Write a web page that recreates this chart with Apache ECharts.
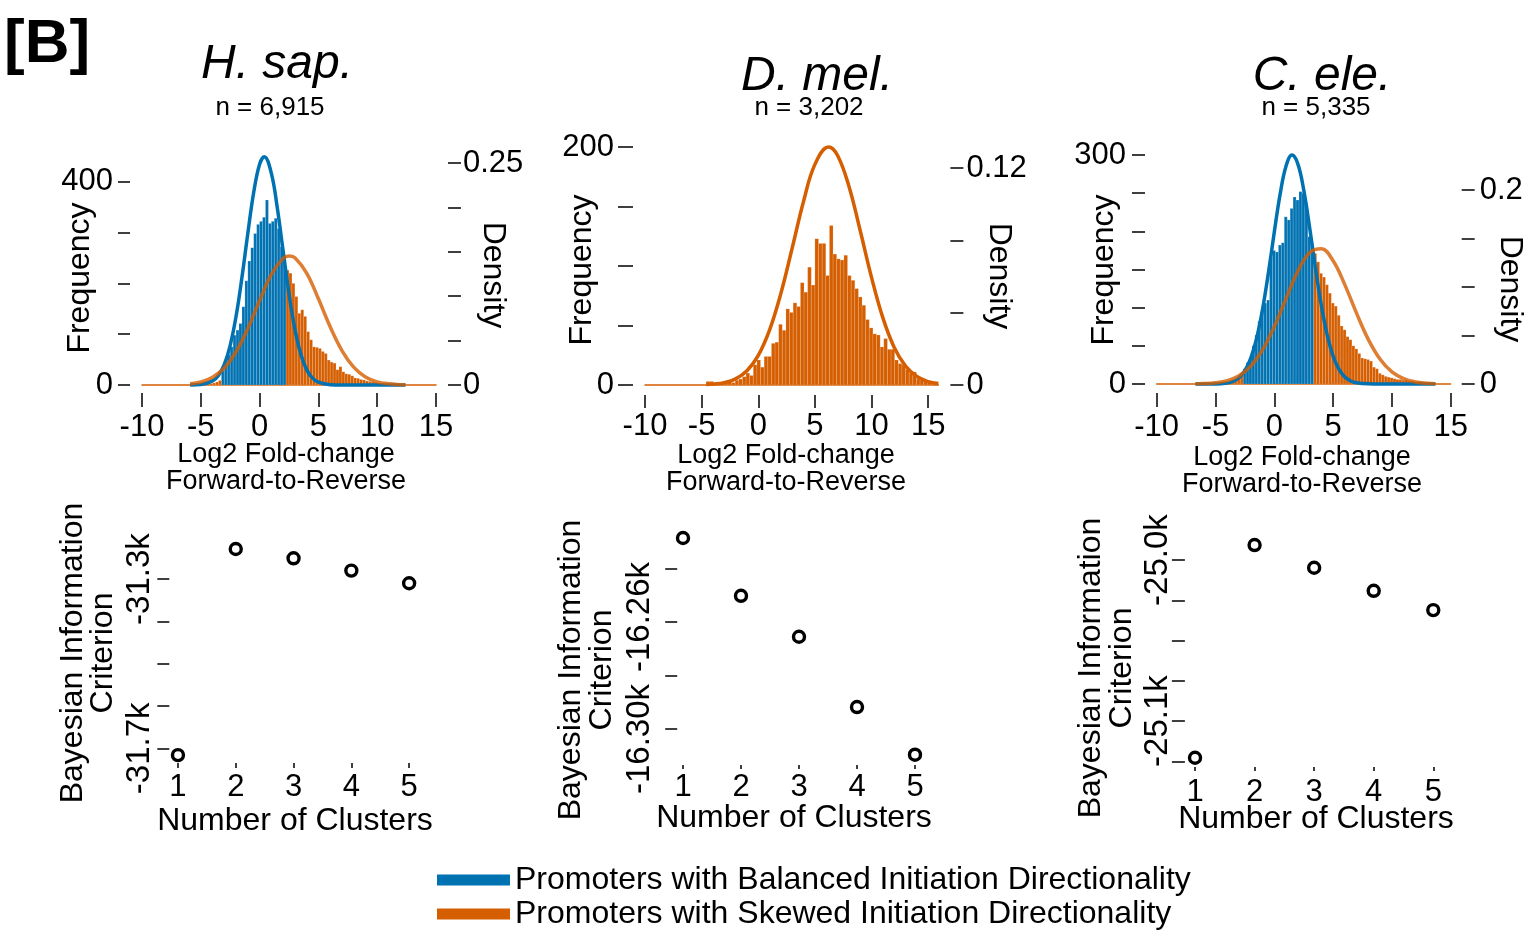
<!DOCTYPE html>
<html>
<head>
<meta charset="utf-8">
<title>Initiation directionality</title>
<script src="https://cdn.jsdelivr.net/npm/echarts@6/dist/echarts.min.js"></script>
<style>
  html, body { margin: 0; padding: 0; background: #fff; }
  #chart { width: 1526px; height: 930px; }
</style>
</head>
<body>
<div id="chart"></div>
<script>
// ---------------- data ----------------
const species = ['H. sap.', 'D. mel.', 'C. ele.'];
const sampleSizes = ['n = 6,915', 'n = 3,202', 'n = 5,335'];
const groupNames = [
  'Promoters with Balanced Initiation Directionality',
  'Promoters with Skewed Initiation Directionality'
];

// Histogram of log2 forward-to-reverse fold-change: first bin edge, bin width, counts.
// Bins inside the "balanced" range belong to the balanced cluster, the rest to the skewed one.
const hsapBinStart = -4.75;
const hsapBinWidth = 0.25;
const hsapCounts = [1, 2, 3, 4, 6, 9,
  28, 42, 60, 75, 98, 108, 121, 154, 205, 244, 270, 298, 316, 322, 330, 364, 318, 322, 328, 308, 272, 253,
  226, 220, 200, 174, 141, 148, 135, 105, 89, 75, 74, 72, 66, 62, 49, 45, 43, 30, 36, 26, 22, 21, 18, 14,
  13, 11, 10, 8, 7, 6, 5, 4, 3, 3, 2, 2, 2, 1, 1, 1, 1];
const hsapBalancedRange = [-3.25, 2.25];

const dmelBinStart = -4.6;
const dmelBinWidth = 0.32;
const dmelCounts = [3, 3, 1, 1, 2, 3, 3, 2, 4, 5, 7, 10, 8, 17, 21, 15, 24, 24, 35, 36, 51, 46, 64, 61, 69,
  66, 86, 78, 99, 84, 123, 119, 119, 92, 134, 110, 106, 105, 109, 92, 88, 81, 74, 67, 55, 48, 43, 42, 32,
  39, 30, 30, 21, 18, 17, 13, 10, 11, 5, 4, 3, 2];
const dmelBalancedRange = null;

const celeBinStart = -4.4;
const celeBinWidth = 0.25;
const celeCounts = [1, 2, 2, 3, 4, 8, 14,
  20, 28, 34, 50, 64, 82, 95, 106, 110, 165, 175, 173, 182, 185, 219, 215, 230, 245, 241, 252, 250, 232, 193, 173,
  171, 160, 145, 140, 130, 119, 106, 102, 90, 76, 71, 62, 58, 50, 46, 40, 34, 33, 32, 30, 22, 20, 14, 12,
  10, 9, 8, 7, 6, 6, 5, 5, 4, 4, 3, 3, 3, 2, 2, 2, 1, 1];
const celeBalancedRange = [-2.65, 3.35];

// Fitted component densities: [log2 fold-change, density]
const hsapBalancedDensity = [[-5.9, 0.0001], [-5, 0.0006], [-4, 0.0046], [-3.5, 0.0108], [-3, 0.0231],
  [-2.5, 0.0447], [-2, 0.0774], [-1.5, 0.1213], [-1, 0.1709], [-0.5, 0.2171], [0, 0.2486], [0.4, 0.2570],
  [1, 0.2384], [1.5, 0.1998], [2, 0.1509], [2.5, 0.1026], [3, 0.0630], [3.5, 0.0348], [4, 0.0173],
  [4.5, 0.0078], [5, 0.0032], [6, 0.0004], [7, 0], [9, 0], [12.4, 0]];
const hsapSkewedDensity = [[-5.9, 0.0013], [-5, 0.0034], [-4, 0.0087], [-3, 0.0192], [-2, 0.0374],
  [-1, 0.0637], [0, 0.0952], [1, 0.1245], [2, 0.1426], [2.5, 0.1453], [3, 0.1432], [4, 0.1260],
  [5, 0.0971], [6, 0.0655], [7, 0.0388], [8, 0.0201], [9, 0.0091], [10, 0.0036], [11, 0.0013],
  [12, 0.0004], [12.4, 0.0002]];
const dmelSkewedDensity = [[-4.6, 0.0003], [-4, 0.0005], [-3, 0.0013], [-2, 0.0034], [-1, 0.0079],
  [0, 0.0164], [1, 0.0305], [2, 0.0508], [3, 0.0759], [4, 0.1016], [5, 0.1220], [6.2, 0.1316],
  [7, 0.1269], [8, 0.1099], [9, 0.0853], [10, 0.0594], [11, 0.0371], [12, 0.0208], [13, 0.0105],
  [14, 0.0047], [15, 0.0019], [15.9, 0.0008]];
const celeBalancedDensity = [[-6.7, 0], [-5, 0.0001], [-4, 0.0011], [-3.5, 0.0028], [-3, 0.0065],
  [-2.5, 0.0137], [-2, 0.0266], [-1.5, 0.0473], [-1, 0.0770], [-0.5, 0.1147], [0, 0.1567], [0.5, 0.1960],
  [1, 0.2247], [1.5, 0.2360], [2, 0.2270], [2.5, 0.2002], [3, 0.1617], [3.5, 0.1196], [4, 0.0811],
  [4.5, 0.0504], [5, 0.0287], [5.5, 0.0150], [6, 0.0071], [6.5, 0.0031], [7, 0.0013], [8, 0.0002],
  [9, 0], [13.7, 0]];
const celeSkewedDensity = [[-6.7, 0.0002], [-6, 0.0004], [-5, 0.0013], [-4, 0.0035], [-3, 0.0085],
  [-2, 0.0184], [-1, 0.0351], [0, 0.0592], [1, 0.0882], [2, 0.1162], [3, 0.1354], [4, 0.1394],
  [5, 0.1270], [6, 0.1022], [7, 0.0728], [8, 0.0458], [9, 0.0255], [10, 0.0125], [11, 0.0055],
  [12, 0.0021], [13, 0.0007], [13.7, 0.0003]];

// Bayesian information criterion per number of mixture components
const clusterCounts = [1, 2, 3, 4, 5];
const hsapBic = [-31716, -31229, -31251, -31280, -31310];
const dmelBic = [-16228.6, -16250.2, -16265.5, -16291.8, -16309.6];
const celeBic = [-25122.8, -24990.7, -25004.8, -25019.1, -25031.1];

// Axis ticks and labelled values
const foldChangeTicks = [-10, -5, 0, 5, 10, 15];
const hsapFreqTicks = [0, 100, 200, 300, 400];
const hsapFreqLabels = [0, 400];
const hsapDensityTicks = [0, 0.05, 0.1, 0.15, 0.2, 0.25];
const hsapDensityLabels = [0, 0.25];
const dmelFreqTicks = [0, 50, 100, 150, 200];
const dmelFreqLabels = [0, 200];
const dmelDensityTicks = [0, 0.04, 0.08, 0.12];
const dmelDensityLabels = [0, 0.12];
const celeFreqTicks = [0, 50, 100, 150, 200, 250, 300];
const celeFreqLabels = [0, 300];
const celeDensityTicks = [0, 0.05, 0.1, 0.15, 0.2];
const celeDensityLabels = [0, 0.2];
const hsapBicTicks = [-31700, -31600, -31500, -31400, -31300];
const hsapBicLabels = [-31700, -31300];
const dmelBicTicks = [-16300, -16280, -16260, -16240];
const dmelBicLabels = [-16300, -16260];
const celeBicTicks = [-25125, -25100, -25075, -25050, -25025, -25000];
const celeBicLabels = [-25100, -25000];

// ---------------- styling ----------------
const BLUE = '#0072B2';
const ORANGE = '#D55E00';
const FONT = '"Liberation Sans", Arial, Helvetica, sans-serif';
const TICK_FONT = 31;

function binsFor(start, width, counts, range, balanced) {
  const out = [];
  counts.forEach((c, i) => {
    const x0 = start + i * width;
    const x1 = x0 + width;
    const inRange = !!range && x0 >= range[0] - 1e-9 && x1 <= range[1] + 1e-9;
    if (inRange === balanced) out.push([x0, x1, c]);
  });
  return out;
}

function renderBin(params, api) {
  const top = api.coord([api.value(0), api.value(2)]);
  const base = api.coord([api.value(1), 0]);
  return {
    type: 'rect',
    shape: { x: top[0], y: top[1], width: base[0] - top[0], height: base[1] - top[1] },
    style: { fill: api.visual('color'), stroke: 'rgba(255,255,255,0.3)', lineWidth: 0.5 }
  };
}

function histSeries(name, color, data, xi, yi) {
  return {
    type: 'custom', name, renderItem: renderBin, data,
    xAxisIndex: xi, yAxisIndex: yi,
    encode: { x: [0, 1], y: 2 },
    itemStyle: { color }, z: 2, silent: true
  };
}

function curveSeries(name, color, opacity, data, xi, yi) {
  return {
    type: 'line', name, data, xAxisIndex: xi, yAxisIndex: yi,
    showSymbol: false, symbol: 'none', smooth: 0.4, clip: false,
    lineStyle: { color, width: 3.5, opacity }, itemStyle: { color },
    z: 4, silent: true
  };
}

function bicSeries(values, xi, yi) {
  return {
    type: 'scatter', data: clusterCounts.map((c, i) => [c, values[i]]),
    xAxisIndex: xi, yAxisIndex: yi, symbol: 'circle', symbolSize: 11, clip: false,
    itemStyle: { color: '#fff', borderColor: '#000', borderWidth: 3.4, opacity: 1 },
    z: 5, silent: true
  };
}

function baseLineAxis(gridIndex, min, max) {
  return {
    type: 'value', gridIndex, position: 'bottom', min, max,
    axisLine: { show: true, onZero: false, lineStyle: { color: ORANGE, width: 1.5 } },
    axisTick: { show: false }, axisLabel: { show: false }, splitLine: { show: false }
  };
}

function tickAxis(gridIndex, position, min, max, ticks, labels, s) {
  return {
    type: 'value', gridIndex, position, min, max, offset: s.offset,
    axisLine: { show: false, onZero: false },
    splitLine: { show: false },
    axisTick: { show: true, length: s.tickLen, customValues: ticks,
      lineStyle: { color: '#000', width: 1.5 } },
    axisLabel: Object.assign({ show: true, customValues: labels, margin: s.margin, rotate: s.rotate || 0,
      color: '#000', fontSize: s.fontSize || TICK_FONT, fontFamily: FONT,
      formatter: s.formatter || (v => String(v)) }, s.rich ? { rich: s.rich } : {})
  };
}

const kFormat = digits => v => (v / 1000).toFixed(digits) + 'k';
// the two D. mel BIC labels are nudged apart so they do not touch
const dmelBicFormat = v => (v === -16300 ? '{lo|' : '{hi|') + kFormat(2)(v) + '}';
const dmelBicRich = {
  lo: { fontSize: 33, fontFamily: FONT, color: '#000', padding: [0, 20, 0, 0] },
  hi: { fontSize: 33, fontFamily: FONT, color: '#000', padding: [0, 0, 0, 10] }
};

const grids = [
  { left: 142, top: 157, width: 294, height: 228 },
  { left: 645, top: 147, width: 293.4, height: 238 },
  { left: 1156.7, top: 155, width: 294, height: 229 },
  { left: 169.3, top: 545.2, width: 248.5, height: 215.8 },
  { left: 677.2, top: 528.4, width: 243.6, height: 232.7 },
  { left: 1184.9, top: 519.8, width: 258.5, height: 246.3 }
].map(g => Object.assign({ outerBoundsMode: 'none', containLabel: false }, g));

const xAxes = [
  baseLineAxis(0, -10, 15),
  tickAxis(0, 'bottom', -10, 15, foldChangeTicks, foldChangeTicks, { offset: 8, tickLen: 14, margin: 19 }),
  baseLineAxis(1, -10, 15.9),
  tickAxis(1, 'bottom', -10, 15.9, foldChangeTicks, foldChangeTicks, { offset: 10, tickLen: 13, margin: 16 }),
  baseLineAxis(2, -10, 15),
  tickAxis(2, 'bottom', -10, 15, foldChangeTicks, foldChangeTicks, { offset: 9, tickLen: 14, margin: 19 }),
  tickAxis(3, 'bottom', 0.85, 5.15, clusterCounts, clusterCounts, { offset: 2, tickLen: 5, margin: 9 }),
  tickAxis(4, 'bottom', 0.9, 5.1, clusterCounts, clusterCounts, { offset: 4, tickLen: 4, margin: 7 }),
  tickAxis(5, 'bottom', 0.83, 5.17, clusterCounts, clusterCounts, { offset: 1, tickLen: 4, margin: 10 })
];

const yAxes = [
  tickAxis(0, 'left', 0, 448.6, hsapFreqTicks, hsapFreqLabels, { offset: 12, tickLen: 12, margin: 17 }),
  tickAxis(0, 'right', 0, 0.2568, hsapDensityTicks, hsapDensityLabels, { offset: 12, tickLen: 13, margin: 15 }),
  tickAxis(1, 'left', 0, 200, dmelFreqTicks, dmelFreqLabels, { offset: 12, tickLen: 15, margin: 19 }),
  tickAxis(1, 'right', 0, 0.1316, dmelDensityTicks, dmelDensityLabels, { offset: 12, tickLen: 13, margin: 16 }),
  tickAxis(2, 'left', 0, 300, celeFreqTicks, celeFreqLabels, { offset: 11.7, tickLen: 13, margin: 19 }),
  tickAxis(2, 'right', 0, 0.2361, celeDensityTicks, celeDensityLabels, { offset: 11, tickLen: 13, margin: 18 }),
  tickAxis(3, 'left', -31730, -31220, hsapBicTicks, hsapBicLabels,
    { offset: 0, tickLen: 12, margin: 13, rotate: 90, fontSize: 33, formatter: kFormat(1) }),
  tickAxis(4, 'left', -16312, -16225, dmelBicTicks, dmelBicLabels,
    { offset: 0, tickLen: 12, margin: 21, rotate: 90, fontSize: 33, formatter: dmelBicFormat, rich: dmelBicRich }),
  tickAxis(5, 'left', -25128, -24975, celeBicTicks, celeBicLabels,
    { offset: 0, tickLen: 13, margin: 10, rotate: 90, fontSize: 33, formatter: kFormat(1) })
];

const series = [
  histSeries(groupNames[0], BLUE, binsFor(hsapBinStart, hsapBinWidth, hsapCounts, hsapBalancedRange, true), 1, 0),
  histSeries(groupNames[1], ORANGE, binsFor(hsapBinStart, hsapBinWidth, hsapCounts, hsapBalancedRange, false), 1, 0),
  curveSeries(groupNames[0], BLUE, 1, hsapBalancedDensity, 1, 1),
  curveSeries(groupNames[1], ORANGE, 0.8, hsapSkewedDensity, 1, 1),

  histSeries(groupNames[1], ORANGE, binsFor(dmelBinStart, dmelBinWidth, dmelCounts, dmelBalancedRange, false), 3, 2),
  curveSeries(groupNames[1], ORANGE, 1, dmelSkewedDensity, 3, 3),

  histSeries(groupNames[0], BLUE, binsFor(celeBinStart, celeBinWidth, celeCounts, celeBalancedRange, true), 5, 4),
  histSeries(groupNames[1], ORANGE, binsFor(celeBinStart, celeBinWidth, celeCounts, celeBalancedRange, false), 5, 4),
  curveSeries(groupNames[0], BLUE, 1, celeBalancedDensity, 5, 5),
  curveSeries(groupNames[1], ORANGE, 0.8, celeSkewedDensity, 5, 5),

  bicSeries(hsapBic, 6, 6),
  bicSeries(dmelBic, 7, 7),
  bicSeries(celeBic, 8, 8)
];

function label(text, x, y, size, extra) {
  return Object.assign({
    type: 'text', x, y, silent: true,
    style: Object.assign({
      text, fill: '#000', fontSize: size, fontFamily: FONT,
      align: 'center', verticalAlign: 'middle',
      textAlign: 'center', textVerticalAlign: 'middle'
    }, (extra && extra.style) || {})
  }, extra && extra.rotation !== undefined ? { rotation: extra.rotation } : {});
}

const UP = Math.PI / 2;
const DOWN = -Math.PI / 2;
const graphics = [
  label('[B]', 4, 45, 62, { style: { fontWeight: 'bold', align: 'left', textAlign: 'left' } }),
  label(species[0], 277, 65, 48, { style: { fontStyle: 'italic' } }),
  label(species[1], 817, 77, 48, { style: { fontStyle: 'italic' } }),
  label(species[2], 1322, 77, 48, { style: { fontStyle: 'italic' } }),
  label(sampleSizes[0], 270, 108, 26),
  label(sampleSizes[1], 809, 108, 26),
  label(sampleSizes[2], 1316, 108, 26),

  label('Frequency', 80, 278, 32, { rotation: UP }),
  label('Frequency', 582, 270, 32, { rotation: UP }),
  label('Frequency', 1104, 270, 32, { rotation: UP }),
  label('Density', 493, 275, 32, { rotation: DOWN }),
  label('Density', 999, 276, 32, { rotation: DOWN }),
  label('Density', 1510, 289, 32, { rotation: DOWN }),

  label('Log2 Fold-change\nForward-to-Reverse', 286, 468, 27, { style: { lineHeight: 27 } }),
  label('Log2 Fold-change\nForward-to-Reverse', 786, 469, 27, { style: { lineHeight: 27 } }),
  label('Log2 Fold-change\nForward-to-Reverse', 1302, 471, 27, { style: { lineHeight: 27 } }),

  label('Bayesian Information\nCriterion', 88, 653, 32, { rotation: UP, style: { lineHeight: 30 } }),
  label('Bayesian Information\nCriterion', 587, 670, 32, { rotation: UP, style: { lineHeight: 31 } }),
  label('Bayesian Information\nCriterion', 1107, 668, 32, { rotation: UP, style: { lineHeight: 31 } }),

  label('Number of Clusters', 295, 821, 32),
  label('Number of Clusters', 794, 818, 32),
  label('Number of Clusters', 1316, 819, 32)
];

const chart = echarts.init(document.getElementById('chart'), null, { renderer: 'canvas' });
chart.setOption({
  animation: false,
  backgroundColor: '#fff',
  textStyle: { fontFamily: FONT, color: '#000' },
  grid: grids,
  xAxis: xAxes,
  yAxis: yAxes,
  legend: {
    data: groupNames, orient: 'vertical', left: 437, top: 864, width: 900, height: 90, padding: 0,
    itemWidth: 73, itemHeight: 11, itemGap: 2, icon: 'rect', selectedMode: false,
    textStyle: { fontSize: 32, fontFamily: FONT, color: '#000', padding: [0, 0, 0, 0] }
  },
  tooltip: { show: false },
  graphic: { elements: graphics },
  series
});
</script>
</body>
</html>
